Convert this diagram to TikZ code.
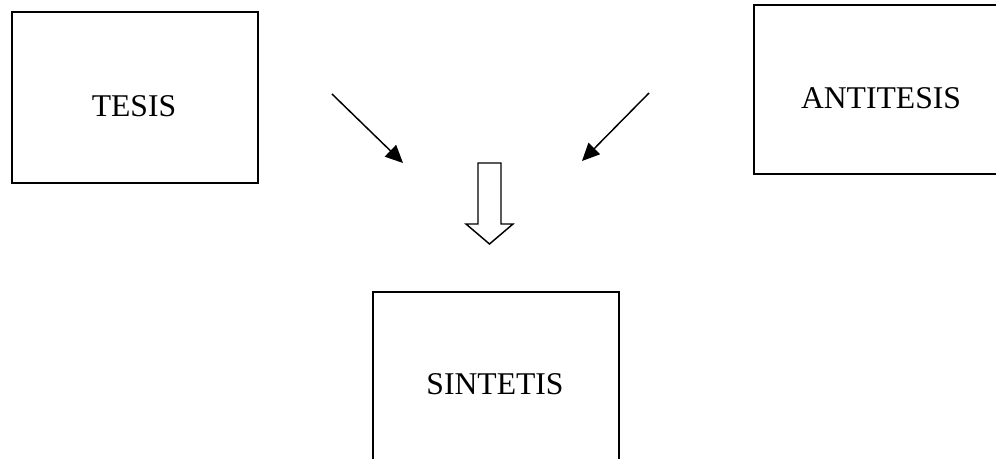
\documentclass[tikz,border=0pt]{standalone}
\usepackage{fontspec}
\setmainfont{Liberation Serif}
\usetikzlibrary{arrows.meta}
\begin{document}
\begin{tikzpicture}[x=0.012cm,y=-0.012cm,
    caja/.style={draw,line width=0.85pt,inner sep=0pt},
    etiqueta/.style={font=\fontsize{10.8}{12}\selectfont,inner sep=0pt},
    flecha/.style={line width=0.5pt,-{Triangle[length=6pt,width=5.5pt]}}]
        \useasboundingbox (0,0) rectangle (996,459);
        \clip (0,0) rectangle (996,459);

        % Cajas
        \node[caja,minimum width=2.952cm,minimum height=2.052cm] (tesis) at (135,97.5) {};
        \node[caja,minimum width=3.072cm,minimum height=2.028cm] (antitesis) at (882,89.5) {};
        \node[caja,minimum width=2.952cm,minimum height=2.256cm] (sintesis) at (496,386) {};

        % Textos
        \node[etiqueta] (tesislbl) at (134,106) {TESIS};
        \node[etiqueta] (antitesislbl) at (881,98) {ANTITESIS};
        \node[etiqueta] (sintesislbl) at (495,384.5) {SINTETIS};

        % Flechas inclinadas
        \coordinate (izqA) at (332,94);
        \coordinate (izqB) at (403,163);
        \coordinate (derA) at (649,93);
        \coordinate (derB) at (582,161);
        \draw[flecha] (izqA) -- (izqB);
        \draw[flecha] (derA) -- (derB);

        % Flecha hueca hacia abajo
        \draw[line width=0.5pt] (478,163) -- (501,163) -- (501,224) -- (513,224)
            -- (489.5,244) -- (466,224) -- (478,224) -- cycle;
\end{tikzpicture}
\end{document}
